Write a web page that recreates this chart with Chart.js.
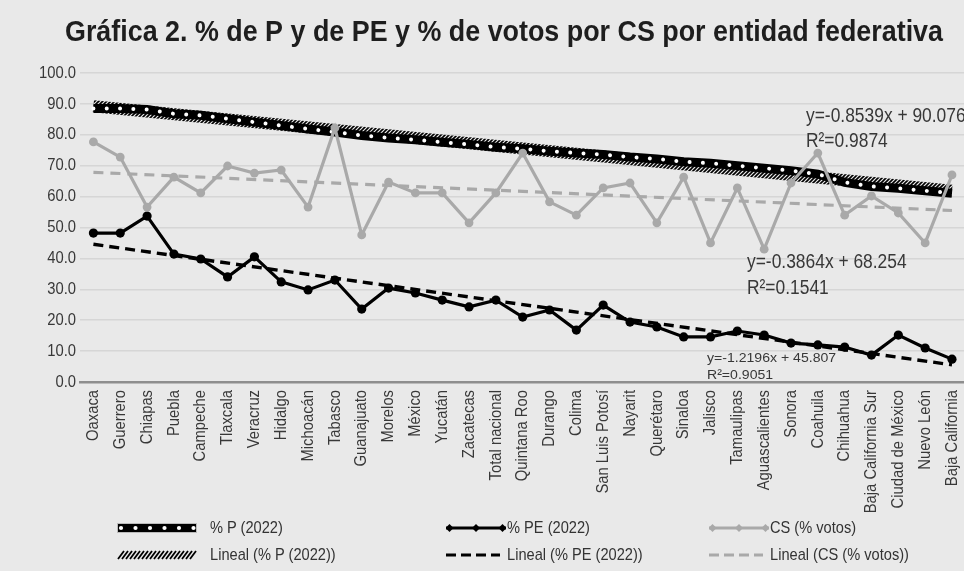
<!DOCTYPE html>
<html>
<head>
<meta charset="utf-8">
<script src="https://cdn.jsdelivr.net/npm/chart.js@4.4.1/dist/chart.umd.min.js"></script>
<style>
  html, body { margin: 0; padding: 0; background: #e9e9e9; overflow: hidden; }
  #wrap { position: relative; width: 964px; height: 571px; overflow: hidden; }
  #myChart { position: absolute; left: 0; top: 0; }
  .lg { position: absolute; font: 17px "Liberation Sans", Arial, sans-serif; color: #333; line-height: 20px;
        white-space: nowrap; transform: scaleX(0.86); transform-origin: left center; }
  .sw { position: absolute; display: block; }
</style>
</head>
<body>
<div id="wrap">
  <canvas id="myChart" width="970" height="571"></canvas>
</div>
<script>
const categories = ['Oaxaca', 'Guerrero', 'Chiapas', 'Puebla', 'Campeche', 'Tlaxcala', 'Veracruz',
  'Hidalgo', 'Michoacán', 'Tabasco', 'Guanajuato', 'Morelos', 'México', 'Yucatán', 'Zacatecas',
  'Total nacional', 'Quintana Roo', 'Durango', 'Colima', 'San Luis Potosí', 'Nayarit', 'Querétaro',
  'Sinaloa', 'Jalisco', 'Tamaulipas', 'Aguascalientes', 'Sonora', 'Coahuila', 'Chihuahua',
  'Baja California Sur', 'Ciudad de México', 'Nuevo León', 'Baja California'];

const pctP = [88.5, 88.5, 88.2, 86.8, 86.3, 85.2, 84.1, 83.0, 81.9, 80.9, 79.8, 79.0, 78.4, 77.6,
  76.9, 76.0, 75.5, 74.7, 74.1, 73.6, 72.8, 72.2, 71.3, 70.8, 70.0, 69.2, 68.4, 67.3, 64.6, 63.3,
  62.7, 61.9, 61.1];

const pctPE = [48.2, 48.2, 53.7, 41.4, 39.8, 34.0, 40.5, 32.4, 29.8, 33.0, 23.6, 30.4, 28.8, 26.5,
  24.3, 26.5, 21.0, 23.3, 16.8, 24.9, 19.4, 17.8, 14.6, 14.6, 16.5, 15.2, 12.6, 12.0, 11.3, 8.7,
  15.2, 11.0, 7.4];

const csVotos = [77.7, 72.8, 56.6, 66.3, 61.2, 69.9, 67.6, 68.6, 56.6, 82.2, 47.6, 64.7, 61.2, 61.2,
  51.5, 61.2, 74.1, 58.3, 54.0, 62.8, 64.4, 51.5, 66.3, 45.0, 62.8, 43.0, 64.4, 74.1, 54.0, 60.2,
  54.7, 45.0, 67.0];

// trend lines as printed on the chart (x = 1..33), order: P, PE, CS
const trendSlopes = [-0.8539, -1.2196, -0.3864];
const trendIntercepts = [90.076, 45.807, 68.254];
const trendR2 = ['0.9874', '0.9051', '0.1541'];

const yMin = 0, yMax = 100, yStep = 10;

const TITLE = 'Gráfica 2. % de P y de PE y % de votos por CS por entidad federativa';
const FONT = '"Liberation Sans", Arial, sans-serif';
const SQUEEZE = 0.87;   // stand-in for the condensed face of the original
const GRAY = '#a9a9a9';
const TEXT = '#383838';

function trendLine(k) {
  const n = categories.length;
  return categories.map((_, i) => (i === 0 || i === n - 1) ? trendSlopes[k] * (i + 1) + trendIntercepts[k] : null);
}

function hatch() {
  const p = document.createElement('canvas');
  p.width = 4; p.height = 4;
  const c = p.getContext('2d');
  c.strokeStyle = '#000';
  c.lineWidth = 1.6;
  c.beginPath();
  c.moveTo(-1, 5); c.lineTo(5, -1);
  c.moveTo(3, 5); c.lineTo(5, 3);
  c.moveTo(-1, 1); c.lineTo(1, -1);
  c.stroke();
  return c.createPattern(p, 'repeat');
}
const hatchPattern = hatch();

function squeezedText(c, text, x, y, align, sx, sy) {
  c.save();
  c.translate(x, y);
  c.scale(sx, sy || 1);
  c.textAlign = align;
  c.fillText(text, 0, 0);
  c.restore();
}

// title, tick labels and trend equations, drawn narrow like the original face
const textLayer = {
  id: 'textLayer',
  afterDraw(chart) {
    const c = chart.ctx;
    const xs = chart.scales.x, ys = chart.scales.y;
    c.save();
    c.textBaseline = 'middle';

    c.fillStyle = '#1e1e1e';
    c.font = 'bold 29px ' + FONT;
    const tw = c.measureText(TITLE).width;
    squeezedText(c, TITLE, 504, 33, 'center', 878 / tw, 1);

    c.fillStyle = TEXT;
    c.font = '17px ' + FONT;
    ys.ticks.forEach((t) => {
      squeezedText(c, t.value.toFixed(1), 76, ys.getPixelForValue(t.value), 'right', SQUEEZE);
    });
    categories.forEach((name, i) => {
      c.save();
      c.translate(xs.getPixelForValue(i), chart.chartArea.bottom + 8);
      c.rotate(-Math.PI / 2);
      c.scale(SQUEEZE, 1);
      c.textAlign = 'right';
      c.fillText(name, 0, 0);
      c.restore();
    });

    c.font = '20px ' + FONT;
    squeezedText(c, 'y=' + trendSlopes[0] + 'x + ' + trendIntercepts[0], 806, ys.getPixelForValue(85.8), 'left', SQUEEZE);
    squeezedText(c, 'R²=' + trendR2[0], 806, ys.getPixelForValue(77.7), 'left', SQUEEZE);
    squeezedText(c, 'y=' + trendSlopes[2] + 'x + ' + trendIntercepts[2], 747, ys.getPixelForValue(38.8), 'left', SQUEEZE);
    squeezedText(c, 'R²=' + trendR2[2], 747, ys.getPixelForValue(30.4), 'left', SQUEEZE);
    c.font = '16px ' + FONT;
    squeezedText(c, 'y=' + trendSlopes[1] + 'x + ' + trendIntercepts[1], 707, ys.getPixelForValue(7.8), 'left', 0.88, 0.85);
    squeezedText(c, 'R²=' + trendR2[1], 707, ys.getPixelForValue(2.3), 'left', 0.88, 0.85);
    c.restore();
  }
};

const ctx = document.getElementById('myChart').getContext('2d');

new Chart(ctx, {
  type: 'line',
  data: {
    labels: categories,
    datasets: [
      { label: 'Lineal (% P (2022))', data: trendLine(0), spanGaps: true, borderColor: hatchPattern,
        borderWidth: 12, pointRadius: 0, order: 7 },
      { label: '% P (2022)', data: pctP, borderColor: '#000', borderWidth: 9, pointRadius: 0, order: 6 },
      { label: '% P (2022) dots', data: pctP, borderColor: '#fff', borderWidth: 4, borderDash: [0.01, 13.3],
        borderCapStyle: 'round', pointRadius: 0, order: 5 },
      { label: '% PE (2022)', data: pctPE, borderColor: '#000', backgroundColor: '#000', borderWidth: 3.2,
        pointRadius: 4.6, pointBorderWidth: 0, order: 4 },
      { label: 'CS (% votos)', data: csVotos, borderColor: GRAY, backgroundColor: GRAY, borderWidth: 3.2,
        pointRadius: 4.4, pointBorderWidth: 0, order: 3 },
      { label: 'Lineal (% PE (2022))', data: trendLine(1), spanGaps: true, borderColor: '#000',
        borderWidth: 3.4, borderDash: [10, 6], pointRadius: 0, order: 2 },
      { label: 'Lineal (CS (% votos))', data: trendLine(2), spanGaps: true, borderColor: GRAY,
        borderWidth: 3.2, borderDash: [10, 7], pointRadius: 0, order: 1 }
    ]
  },
  options: {
    responsive: false,
    animation: false,
    layout: { padding: { left: 0, right: 0, top: 73, bottom: 0 } },
    plugins: {
      legend: { display: false },
      tooltip: { enabled: false },
      title: { display: false }
    },
    scales: {
      x: {
        offset: true,
        grid: { display: false },
        border: { color: '#8e8e8e', width: 2.5 },
        ticks: { display: false },
        afterFit(scale) { scale.height = 189; }
      },
      y: {
        min: yMin, max: yMax,
        grid: { color: '#d6d6d6', lineWidth: 1.5, drawTicks: false },
        border: { display: false },
        ticks: { display: false, stepSize: yStep },
        afterFit(scale) { scale.width = 80; }
      }
    }
  },
  plugins: [textLayer]
});

// legend: three columns, two rows
const legendNames = ['% P (2022)', '% PE (2022)', 'CS (% votos)',
  'Lineal (% P (2022))', 'Lineal (% PE (2022))', 'Lineal (CS (% votos))'];
const legendSwatchX = [117, 446, 709];
const legendTextX = [210, 507, 770];
const legendRows = [528, 555];

function swatch(kind) {
  const wide = kind === 0 || kind === 3;
  const w = wide ? 80 : (kind < 3 ? 60 : 54), h = 14;
  const cv = document.createElement('canvas');
  cv.width = w; cv.height = h;
  const c = cv.getContext('2d');
  const m = h / 2;
  if (kind === 0) {
    c.fillStyle = '#000'; c.fillRect(0, 2, w, 10);
    c.strokeStyle = '#bbb'; c.lineWidth = 1; c.strokeRect(0.5, 2.5, w - 1, 9);
    c.fillStyle = '#fff';
    for (let x = 4; x < w; x += 14.5) { c.beginPath(); c.arc(x, m, 2.1, 0, Math.PI * 2); c.fill(); }
  } else if (kind === 3) {
    c.strokeStyle = '#000'; c.lineWidth = 1.8;
    c.beginPath();
    for (let x = 1; x < w - 6; x += 4) { c.moveTo(x, 11); c.lineTo(x + 6, 3); }
    c.stroke();
  } else if (kind === 1 || kind === 2) {
    const col = kind === 1 ? '#000' : GRAY;
    c.strokeStyle = col; c.fillStyle = col; c.lineWidth = 3;
    c.beginPath(); c.moveTo(0, m); c.lineTo(w, m); c.stroke();
    [3.5, w / 2, w - 3.5].forEach((x) => {
      c.beginPath(); c.moveTo(x - 4, m); c.lineTo(x, m - 4); c.lineTo(x + 4, m); c.lineTo(x, m + 4); c.fill();
    });
  } else {
    c.strokeStyle = kind === 4 ? '#000' : GRAY; c.lineWidth = 3.2; c.setLineDash([10, 5]);
    c.beginPath(); c.moveTo(0, m); c.lineTo(w, m); c.stroke();
  }
  return cv;
}

const wrap = document.getElementById('wrap');
legendNames.forEach((name, i) => {
  const row = legendRows[Math.floor(i / 3)];
  const sw = swatch(i);
  sw.className = 'sw';
  sw.style.left = legendSwatchX[i % 3] + 'px';
  sw.style.top = (row - 7) + 'px';
  wrap.appendChild(sw);
  const t = document.createElement('div');
  t.className = 'lg';
  t.style.left = legendTextX[i % 3] + 'px';
  t.style.top = (row - 10) + 'px';
  t.textContent = name;
  wrap.appendChild(t);
});
</script>
</body>
</html>
